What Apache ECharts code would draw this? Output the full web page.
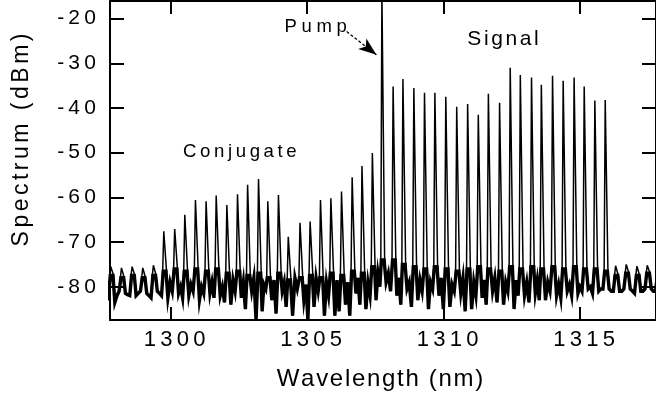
<!DOCTYPE html>
<html><head><meta charset="utf-8">
<script src="https://cdn.jsdelivr.net/npm/echarts@6/dist/echarts.min.js"></script>
<style>html,body{margin:0;padding:0;background:#fff}#c{width:656px;height:400px}</style>
</head><body><div id="c"></div>
<script>
// ---- data ----
const xTicks = [1300, 1305, 1310, 1315];
const yTicks = [-80, -70, -60, -50, -40, -30, -20];

// comb line positions (nm): left floor ripple, conjugates, pump, signals, right floor ripple
const combNm = [1297.45, 1297.84, 1298.23, 1298.62, 1299.01, 1299.40,
  1299.78, 1300.18, 1300.55, 1300.94, 1301.33, 1301.70, 1302.09, 1302.48, 1302.85, 1303.25, 1303.59,
  1303.98, 1304.34, 1304.77, 1305.14, 1305.52, 1305.90, 1306.29, 1306.68, 1307.04, 1307.42,
  1307.77,
  1308.18, 1308.54, 1308.94, 1309.33, 1309.71, 1310.11, 1310.51, 1310.91, 1311.30, 1311.67, 1312.08,
  1312.47, 1312.84, 1313.25, 1313.61, 1314.02, 1314.41, 1314.81, 1315.18, 1315.57, 1315.95,
  1316.33, 1316.72, 1317.11, 1317.49, 1317.88];
// peak level of each comb line (dBm)
const peakDb = [-75.6, -75.5, -75.8, -75.5, -75.8, -75.2,
  -67.6, -67.1, -63.9, -60.6, -60.9, -59.6, -61.7, -59.3, -57.2, -55.9, -60.9,
  -59.5, -68.8, -65.7, -65.4, -60.6, -60.2, -58.7, -55.5, -53.0, -50.1,
  -14,
  -35.2, -33.5, -35.5, -36.6, -36.6, -37.5, -39.7, -39.1, -41.5, -36.8, -38.8,
  -31.0, -32.6, -33.2, -34.8, -32.8, -33.9, -33.2, -35.2, -38.3, -38.2,
  -75.3, -75.0, -75.4, -75.2, -75.5];
// level at the foot of each comb line (dBm)
const shoulderDb = [-78, -77.5, -78, -77.5, -78, -77.5,
  -76.5, -76, -76.5, -76, -76.5, -76, -77, -76.5, -77.5, -77, -78,
  -77, -78.5, -78, -77.5, -78, -77, -77.5, -76.5, -77, -75.5,
  -74,
  -74, -75, -75.5, -76, -75.5, -76, -76.5, -76, -75.5, -76, -76.5,
  -75.5, -76, -75.5, -76, -75.5, -76, -75.5, -76, -76, -76.5,
  -77.5, -77, -77.5, -77, -77.5];
// noise floor between neighbouring comb lines (three readings per gap, dBm)
const valleyA = [-81.5, -83.5, -81.5, -82, -81.5, -81,
  -82.5, -81.5, -82, -83, -81.5, -82, -84, -82.5, -81, -85.5, -83, -81, -86.5, -83,
  -84.5, -86.5, -86.5, -84, -81.5, -85, -83, -79,
  -82, -80.5, -83, -85, -82, -84.5, -81.5, -85, -82.5, -81, -84, -85, -82, -81.5,
  -83, -82, -81, -81.5, -80.5, -81, -80.5, -81, -80.5, -81, -80.5];
const valleyC = [-82, -82, -81.8, -81.5, -82, -81.5,
  -79, -80, -79.5, -80, -79, -80, -78.5, -79, -78, -79.5, -78.5, -79, -78, -79.5,
  -78, -79, -78.5, -79, -78, -79, -77, -77,
  -78, -79, -78.5, -79, -78, -79.5, -78, -79, -78.5, -78, -79, -78.5, -79, -78.5,
  -79, -79.5, -79.5, -80, -80, -80.5, -81, -81, -81, -81, -81];
const valleyB = [-82.5, -81, -82, -81, -82.5, -82,
  -81, -82.5, -81, -81.5, -82.5, -83.5, -81, -85, -87.5, -80.5, -86, -84.5, -80.5, -87.5,
  -81, -82, -85.5, -86.5, -84, -82, -80, -81,
  -84, -84.5, -81, -80.5, -85, -81, -85.5, -82, -84, -83.5, -81, -82, -83.5, -83,
  -81, -82.5, -82, -81, -81.5, -80.5, -81, -80.5, -81.5, -80.5, -81];

// ---- helpers ----
const FONT = 'Liberation Sans';
function spaced(str, key) { return str.split('').map(c => '{' + key + '|' + c + '}').join(''); }
function rs(size, gap) { return { fontFamily: FONT, fontSize: size, color: '#000', padding: [0, gap / 2, 0, gap / 2] }; }

const trace = [];   // full spectrum
const floor = [];   // same readings without the line peaks (drawn heavier, like the noisy floor)
for (let i = 0; i < combNm.length; i++) {
  const c = combNm[i];
  trace.push([c - 0.07, shoulderDb[i]], [c - 0.03, peakDb[i]], [c + 0.03, peakDb[i]], [c + 0.07, shoulderDb[i]]);
  floor.push([c - 0.05, shoulderDb[i]], [c + 0.05, shoulderDb[i]]);
  if (i < combNm.length - 1) {
    const d = combNm[i + 1] - c;
    const pts = [[c + 0.3 * d, valleyA[i]], [c + 0.5 * d, valleyC[i]], [c + 0.7 * d, valleyB[i]]];
    trace.push(...pts); floor.push(...pts);
  }
}

const axisLine = { show: true, onZero: false, lineStyle: { color: '#000', width: 2 } };
const tickX = { show: true, inside: true, length: 13, customValues: xTicks, lineStyle: { color: '#000', width: 2 } };
const tickY = { show: true, inside: true, length: 14, customValues: yTicks, lineStyle: { color: '#000', width: 2 } };

const chart = echarts.init(document.getElementById('c'), null, { renderer: 'canvas' });
chart.setOption({
  animation: false,
  backgroundColor: '#fff',
  grid: { left: 110, right: -3, top: 1, bottom: 80, containLabel: false },
  xAxis: [
    { type: 'value', position: 'bottom', min: 1297.78, max: 1317.78, axisLine, axisTick: tickX,
      splitLine: { show: false },
      axisLabel: { show: true, customValues: xTicks, margin: 9, padding: [0, 0, 0, 8], fontFamily: FONT, fontSize: 22, color: '#000',
        formatter: v => spaced(String(v), 't'), rich: { t: rs(22, 4.3) } } },
    { type: 'value', position: 'top', min: 1297.78, max: 1317.78, axisLine, axisTick: tickX,
      splitLine: { show: false }, axisLabel: { show: false } }
  ],
  yAxis: [
    { type: 'value', position: 'left', min: -87.45, max: -16.05, axisLine, axisTick: tickY,
      splitLine: { show: false },
      axisLabel: { show: true, customValues: yTicks, margin: 12, fontFamily: FONT, fontSize: 21, color: '#000',
        formatter: v => spaced(String(v), 't'), rich: { t: rs(21, 4.2) } } },
    { type: 'value', position: 'right', min: -87.45, max: -16.05, axisLine, axisTick: tickY,
      splitLine: { show: false }, axisLabel: { show: false } }
  ],
  series: [{
    type: 'line', data: floor, showSymbol: false, symbol: 'none', clip: true,
    lineStyle: { color: '#000', width: 3.4, join: 'miter' }
  }, {
    type: 'line', data: trace, showSymbol: false, symbol: 'none', clip: true,
    lineStyle: { color: '#000', width: 1.5 },
    markLine: {
      silent: true, animation: false, symbol: ['none', 'arrow'], symbolSize: [10, 18],
      label: { show: false },
      lineStyle: { color: '#000', width: 1.3, type: [3, 2] },
      data: [[{ coord: [1306.45, -22.9] }, { coord: [1307.54, -28.1] }]]
    }
  }]
});

const px = (nm, db) => chart.convertToPixel({ xAxisIndex: 0, yAxisIndex: 0 }, [nm, db]);
function label(text, pos, size, gap, key) {
  const rich = {}; rich[key] = rs(size, gap);
  return { type: 'text', x: pos[0], y: pos[1], silent: true,
    style: { text: spaced(text, key), rich, fontFamily: FONT, fontSize: size, fill: '#000', align: 'left', verticalAlign: 'middle' } };
}
const pPump = px(1304.09, -21.9), pSig = px(1310.82, -24.6), pConj = px(1300.39, -49.8);
chart.setOption({
  graphic: [
    label('Pump', pPump, 18.5, 4.6, 'a'),
    label('Signal', pSig, 21, 2.6, 'b'),
    label('Conjugate', pConj, 18.6, 3.6, 'c'),
    { type: 'text', x: 22, y: 140, rotation: Math.PI / 2, silent: true,
      style: { text: spaced('Spectrum (dBm)', 'y'), rich: { y: rs(23, 3.5) }, fontFamily: FONT, fontSize: 23,
        fill: '#000', align: 'center', verticalAlign: 'middle' } },
    { type: 'text', x: 380, y: 379, silent: true,
      style: { text: spaced('Wavelength (nm)', 'x'), rich: { x: rs(24, 1.7) }, fontFamily: FONT, fontSize: 24,
        fill: '#000', align: 'center', verticalAlign: 'middle' } }
  ]
});
</script></body></html>
